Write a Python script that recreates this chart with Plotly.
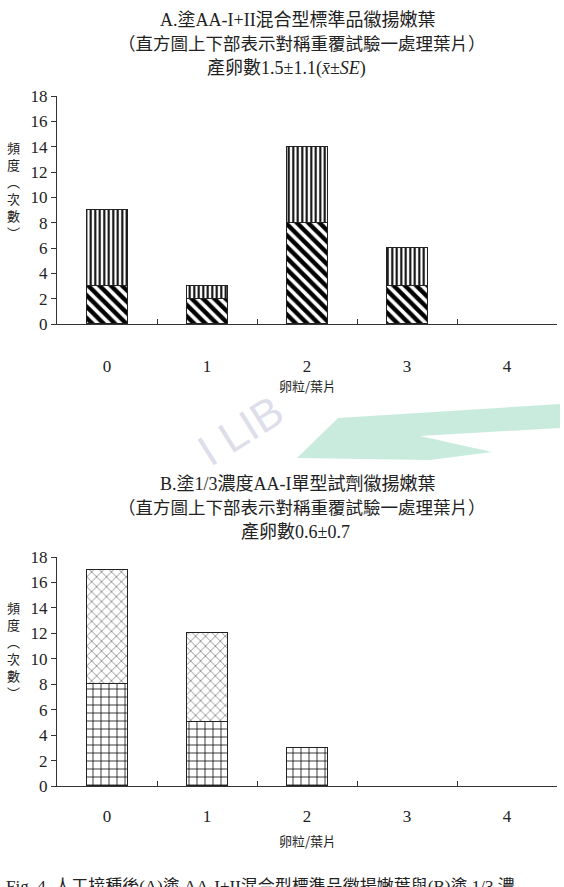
import plotly.graph_objects as go

W, H = 564, 887

categories = [0, 1, 2, 3, 4]
a_lower = [3, 2, 8, 3, 0]
a_upper = [6, 1, 6, 3, 0]
b_lower = [8, 5, 3, 0, 0]
b_upper = [9, 7, 0, 0, 0]
y_ticks = [0, 2, 4, 6, 8, 10, 12, 14, 16, 18]

title_a = ["A.塗AA-I+II混合型標準品徽揚嫩葉",
           "（直方圖上下部表示對稱重覆試驗一處理葉片）",
           "產卵數1.5±1.1(<i>x̄</i>±<i>SE</i>)"]
title_b = ["B.塗1/3濃度AA-I單型試劑徽揚嫩葉",
           "（直方圖上下部表示對稱重覆試驗一處理葉片）",
           "產卵數0.6±0.7"]
x_title = "卵粒/葉片"
y_title = "頻<br>度<br>︵<br>次<br>數<br>︶"
caption = "Fig. 4. 人工接種後(A)塗 AA-I+II混合型標準品徽揚嫩葉與(B)塗 1/3 濃"

SERIF = "Liberation Serif, Noto Sans CJK TC"
CJK = "Noto Sans CJK TC, Liberation Serif"


def px(x=None, y=None):
    if x is not None and y is None:
        return x / W
    return 1 - y / H


def nz(vals):
    return [v if v else None for v in vals]


fig = go.Figure()

line = dict(color="#222", width=1.2)
fig.add_bar(x=categories, y=nz(a_lower), xaxis="x", yaxis="y", width=0.41,
            marker=dict(color="white", line=line,
                        pattern=dict(shape="\\", fgcolor="black", fgopacity=1,
                                     size=8, solidity=0.55)))
fig.add_bar(x=categories, y=nz(a_upper), xaxis="x", yaxis="y", width=0.41,
            marker=dict(color="white", line=line,
                        pattern=dict(shape="|", fgcolor="black", fgopacity=1,
                                     size=4.5, solidity=0.45)))
fig.add_bar(x=categories, y=nz(b_lower), xaxis="x2", yaxis="y2", width=0.41,
            marker=dict(color="white", line=line,
                        pattern=dict(shape="+", fgcolor="black", fgopacity=1,
                                     size=8, solidity=0.18)))
fig.add_bar(x=categories, y=nz(b_upper), xaxis="x2", yaxis="y2", width=0.41,
            marker=dict(color="white", line=line,
                        pattern=dict(shape="x", fgcolor="#333", fgopacity=1,
                                     size=7, solidity=0.14)))

xdom = [57 / W, 557 / W]
ya_dom = [px(y=324), px(y=96)]
yb_dom = [px(y=786), px(y=557)]

xcommon = dict(range=[-0.5, 4.5], tickvals=categories, ticks="", showline=True,
               linecolor="#333", linewidth=1.2, showgrid=False, zeroline=False,
               automargin=False,
               tickfont=dict(family=SERIF, size=17, color="#222"),
               minor=dict(tickvals=[0.5, 1.5, 2.5, 3.5], ticks="inside", ticklen=5,
                          tickcolor="#333", tickwidth=1))
ycommon = dict(range=[0, 18], tickvals=y_ticks, ticks="outside", ticklen=5,
               tickcolor="#333", showline=True, linecolor="#333", linewidth=1.2,
               showgrid=False, zeroline=False, automargin=False,
               tickfont=dict(family=SERIF, size=17, color="#222"))

fig.update_layout(
    width=W, height=H, margin=dict(l=0, r=0, t=0, b=0, autoexpand=False),
    paper_bgcolor="white", plot_bgcolor="white", showlegend=False,
    barmode="stack", bargap=0,
    xaxis=dict(domain=xdom, anchor="y", ticklabelstandoff=26, **xcommon),
    yaxis=dict(domain=ya_dom, anchor="x", **ycommon),
    xaxis2=dict(domain=xdom, anchor="y2", ticklabelstandoff=14, **xcommon),
    yaxis2=dict(domain=yb_dom, anchor="x2", **ycommon),
)

ann = []


def text(x, y, s, size=15, family=CJK, color="#222", **kw):
    ann.append(dict(x=px(x=x), y=px(y=y), xref="paper", yref="paper", text=s,
                    xanchor="center", yanchor="middle",
                    showarrow=False, font=dict(family=family, size=size, color=color), **kw))


text(298, 20, title_a[0], size=18, family=SERIF)
text(302, 44, title_a[1], size=17.5, family=SERIF)
text(286, 68, title_a[2], size=18, family=SERIF)
text(298, 484, title_b[0], size=18, family=SERIF)
text(302, 508, title_b[1], size=17.5, family=SERIF)
text(295, 532, title_b[2], size=18, family=SERIF)

text(307, 386, x_title, size=13)
text(307, 840, x_title, size=13)
text(13, 190, y_title, size=13)
text(13, 650, y_title, size=13)

# watermark
text(240, 430, "I LIB", size=44, family="Liberation Sans", color="rgba(190,190,215,0.5)",
     textangle=-32)
fig.add_shape(type="path", xref="paper", yref="paper",
              path="M {} {} L {} {} L {} {} L {} {} L {} {} L {} {} L {} {} L {} {} Z".format(
                  px(x=297), px(y=458), px(x=338), px(y=418), px(x=560), px(y=404),
                  px(x=560), px(y=428), px(x=420), px(y=436), px(x=492), px(y=452),
                  px(x=430), px(y=460), px(x=297), px(y=458)),
              fillcolor="rgba(120,205,170,0.4)", line=dict(width=0), layer="below")

ann.append(dict(x=px(x=4), y=px(y=875), xref="paper", yref="paper", text=caption,
                showarrow=False, xanchor="left", yanchor="top",
                font=dict(family=SERIF, size=17, color="#222")))

fig.update_layout(annotations=ann)
fig.write_html("out.html")
